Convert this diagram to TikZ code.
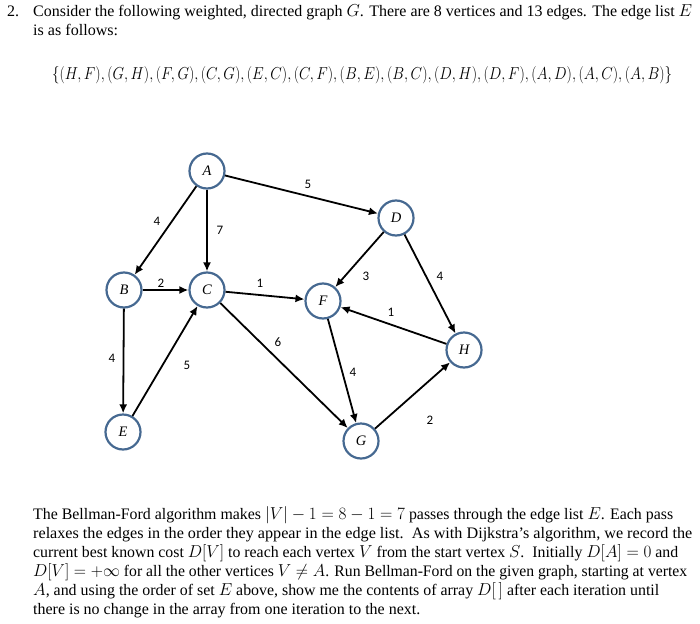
\documentclass[tikz,border=0pt]{standalone}
\usepackage{fontspec}
\setmainfont{Liberation Serif}
\newfontfamily\lblfont{Carlito}
\usetikzlibrary{arrows.meta}
\definecolor{nodeblue}{RGB}{70,105,145}
\begin{document}
\begin{tikzpicture}[x=1pt,y=-1pt,
  vtx/.style={circle,draw=nodeblue,line width=2.2pt,fill=white,minimum size=35pt,inner sep=0pt,font=\itshape\fontsize{14.5}{14.5}\selectfont},
  edge/.style={draw=black,line width=1.8pt,-{Latex[length=9pt,width=8pt]}},
  wlab/.style={font=\lblfont\fontsize{13}{13}\selectfont,inner sep=0pt},
  txt/.style={anchor=base west,inner sep=0pt,font=\fontsize{16}{19}\selectfont}]
\useasboundingbox (0,0) rectangle (700,623);

% header text
\node[txt] (num) at (7,17) {2.};
\node[txt] (h1) at (33,17) {\resizebox{659pt}{\height}{Consider the following weighted, directed graph $G$. There are 8 vertices and 13 edges. The edge list $E$}};
\node[txt] (h2) at (33,36) {\resizebox{85pt}{\height}{is as follows:}};
\node[txt] (eset) at (52,80) {\resizebox{620pt}{\height}{$\{(H,F),(G,H),(F,G),(C,G),(E,C),(C,F),(B,E),(B,C),(D,H),(D,F),(A,D),(A,C),(A,B)\}$}};

% vertices
\node[vtx] (A) at (207,171) {A};
\node[vtx] (D) at (396,218) {D};
\node[vtx] (B) at (124,290) {B};
\node[vtx] (C) at (207,290) {C};
\node[vtx] (F) at (323,301) {F};
\node[vtx] (H) at (464,350) {H};
\node[vtx] (E) at (123,432) {E};
\node[vtx] (G) at (361,441) {G};

% edges
\draw[edge] (A) -- (D);
\draw[edge] (A) -- (B);
\draw[edge] (A) -- (C);
\draw[edge] (B) -- (C);
\draw[edge] (C) -- (F);
\draw[edge] (D) -- (F);
\draw[edge] (D) -- (H);
\draw[edge] (H) -- (F);
\draw[edge] (F) -- (G);
\draw[edge] (G) -- (H);
\draw[edge] (C) -- (G);
\draw[edge] (B) -- (E);
\draw[edge] (E) -- (C);

% weights
\node[wlab] (wAD) at (308,184) {5};
\node[wlab] (wAB) at (157,221) {4};
\node[wlab] (wAC) at (220,230) {7};
\node[wlab] (wBC) at (161,283) {2};
\node[wlab] (wCF) at (260,283) {1};
\node[wlab] (wDF) at (366,276) {3};
\node[wlab] (wDH) at (440,276) {4};
\node[wlab] (wHF) at (391,312) {1};
\node[wlab] (wFG) at (353,372) {4};
\node[wlab] (wGH) at (430,420) {2};
\node[wlab] (wCG) at (278,342) {6};
\node[wlab] (wBE) at (112,358) {4};
\node[wlab] (wEC) at (187,365) {5};

% paragraph
\node[txt] (p1) at (33,519) {\resizebox{640pt}{\height}{The Bellman-Ford algorithm makes $|V|-1=8-1=7$ passes through the edge list $E$. Each pass}};
\node[txt] (p2) at (33,538) {\resizebox{659pt}{\height}{relaxes the edges in the order they appear in the edge list.\ \ As with Dijkstra’s algorithm, we record the}};
\node[txt] (p3) at (33,557) {\resizebox{645pt}{\height}{current best known cost $D[V]$ to reach each vertex $V$ from the start vertex $S$.\ \ Initially $D[A]=0$ and}};
\node[txt] (p4) at (33,576) {\resizebox{654pt}{\height}{$D[V]=+\infty$ for all the other vertices $V\neq A$. Run Bellman-Ford on the given graph, starting at vertex}};
\node[txt] (p5) at (33,595) {\resizebox{626pt}{\height}{$A$, and using the order of set $E$ above, show me the contents of array $D[\,]$ after each iteration until}};
\node[txt] (p6) at (33,614) {\resizebox{387pt}{\height}{there is no change in the array from one iteration to the next.}};
\end{tikzpicture}
\end{document}
